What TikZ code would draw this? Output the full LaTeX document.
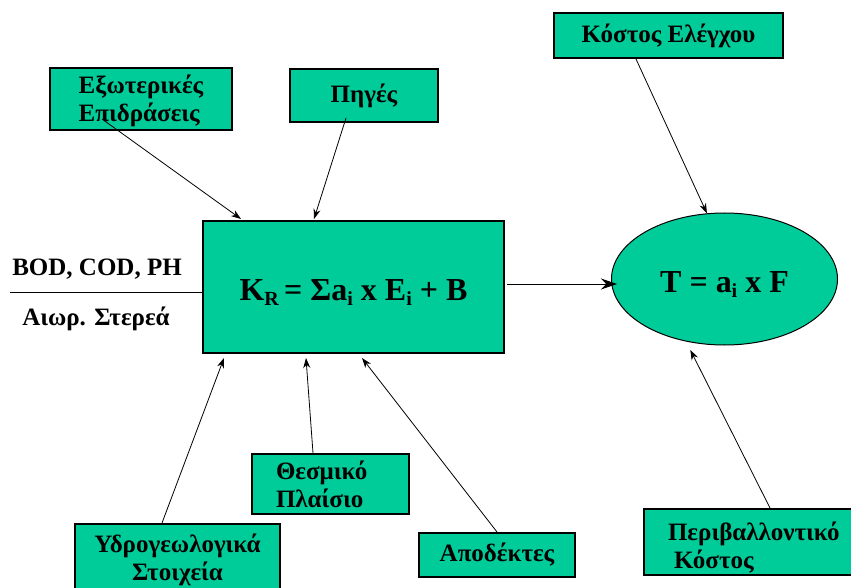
\documentclass[tikz,border=0pt]{standalone}
\usepackage{fontspec}
\setmainfont{Liberation Serif}
\usetikzlibrary{arrows.meta,shapes.geometric,calc}
\definecolor{boxfill}{HTML}{00CC99}
\newcommand{\lbl}{\fontsize{25}{28}\selectfont\bfseries}
\newcommand{\formula}{\fontsize{32}{36}\selectfont\bfseries}
\newcommand{\lowsub}[1]{\raisebox{-0.16em}{\fontsize{20}{20}\selectfont #1}}
\begin{document}
\begin{tikzpicture}[x=1pt,y=-1pt,
  box/.style={draw=black, line width=2pt, fill=boxfill, inner sep=0pt, font=\lbl, align=center},
  lbox/.style={box, anchor=north west, align=left, inner xsep=24pt},
  arr/.style={-{Stealth[length=10pt,width=7pt]}, line width=0.8pt},
  bigarr/.style={-{Stealth[length=16pt,width=11pt]}, line width=1pt}]
\fill[white] (0,0) rectangle (851,588);
\useasboundingbox (0,0) rectangle (851,588);

% boxes
\node[box, align=left, minimum width=182pt, minimum height=62pt] (ext) at (141,99) {\rule{0pt}{22pt}Εξωτερικές\\Επιδράσεις};
\node[box, minimum width=148pt, minimum height=53pt] (pig) at (364,95.5) {Πηγές};
\node[box, minimum width=229pt, minimum height=45pt] (kel) at (668.5,35.5) {Κόστος Ελέγχου};
\node[box, minimum width=301pt, minimum height=132pt, font=\formula, text height=26pt, text depth=0pt] (main) at (353.5,287) {K\lowsub{R}\,= Σa\lowsub{i} x E\lowsub{i} + B};
\node[ellipse, draw=black, line width=1pt, fill=boxfill, minimum width=226pt, minimum height=132pt, inner sep=0pt, font=\formula, text height=26pt, text depth=0pt] (ell) at (724.5,279) {T = a\lowsub{i} x F};
\node[lbox, text width=109pt, minimum height=60pt] (thes) at (251,453) {Θεσμικό\\Πλαίσιο};
\node[box, minimum width=205pt, minimum height=72pt] (hyd) at (177.5,560) {Υδρογεωλογικά\\Στοιχεία};
\node[box, minimum width=156pt, minimum height=44pt] (apo) at (497,555) {Αποδέκτες};
\node[lbox, text width=175pt, minimum height=66pt] (per) at (643,508) {\rule{0pt}{30pt}Περιβαλλοντικό\\\hspace*{6pt}Κόστος};

% left labels
\node[font=\lbl] (bod) at (97,269) {BOD, COD, PH};
\node[font=\lbl] (aio) at (96,319) {Αιωρ. Στερεά};
\coordinate (lft) at (10,292);
\draw[line width=1pt] (lft) -- (main.west |- lft);

% connectors
\draw[arr] ([xshift=53pt,yshift=12pt]ext.south west) -- ([xshift=39pt,yshift=1pt]main.north west);
\draw[arr] ([xshift=57pt,yshift=5pt]pig.south west) -- ([xshift=112pt,yshift=1pt]main.north west);
\draw[arr] ([xshift=83pt]kel.south west) -- (ell.105.5);
\draw[arr] ([xshift=88pt]hyd.north west) -- ([xshift=22pt,yshift=-4pt]main.south west);
\draw[arr] ([xshift=62pt]thes.north west) -- ([xshift=104pt,yshift=-4pt]main.south west);
\draw[arr] ([xshift=79pt]apo.north west) -- ([xshift=160pt,yshift=-4pt]main.south west);
\draw[arr] ([xshift=127pt]per.north west) -- ([xshift=-3pt,yshift=-7pt]ell.244);
\draw[bigarr, shorten >=-6pt] ([xshift=2pt,yshift=3pt]main.east) -- ([yshift=-5pt]ell.west);
\end{tikzpicture}
\end{document}
